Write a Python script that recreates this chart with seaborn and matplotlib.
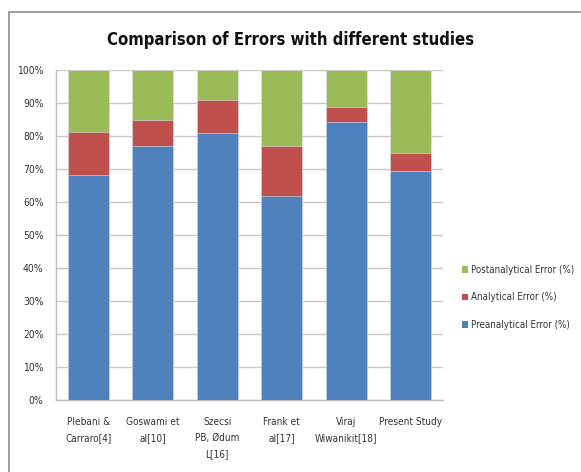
import seaborn as sns
import matplotlib.pyplot as plt
import pandas as pd
from matplotlib.patches import Rectangle, Patch

# data (percent of all errors)
studies = ["Plebani &\nCarraro[4]", "Goswami et\nal[10]", "Szecsi\nPB, Ødum\nL[16]",
           "Frank et\nal[17]", "Viraj\nWiwanikit[18]", "Present Study"]
preanalytical = [68.2, 77.1, 81.0, 61.9, 84.3, 69.5]
analytical = [13.1, 7.9, 9.9, 15.1, 4.6, 5.4]
postanalytical = [18.7, 15.0, 9.1, 23.0, 11.1, 25.1]

series = ["Postanalytical Error (%)", "Analytical Error (%)", "Preanalytical Error (%)"]
colors = ["#9BBB59", "#C0504D", "#4F81BD"]

df = pd.DataFrame({"study": studies, "pre": preanalytical,
                   "ana": analytical, "post": postanalytical})
df["cum_pre"] = df["pre"]
df["cum_ana"] = df["pre"] + df["ana"]
df["cum_post"] = df["cum_ana"] + df["post"]

sns.set_style("white")
plt.rcParams["font.family"] = ["DejaVu Sans"]
plt.rcParams["font.stretch"] = "condensed"

fig = plt.figure(figsize=(5.81, 4.72), dpi=100)
ax = fig.add_axes([0.0964, 0.1525, 0.666, 0.699])

# stacked bars drawn from the tallest cumulative layer down
for col, c in zip(["cum_post", "cum_ana", "cum_pre"], colors):
    sns.barplot(data=df, x="study", y=col, color=c, width=0.64, ax=ax,
                saturation=1, edgecolor="#dce6f2", linewidth=0.4, zorder=3)

ax.set_ylim(0, 100)
ax.set_yticks(range(0, 101, 10))
ax.set_yticklabels([f"{v}%" for v in range(0, 101, 10)])
ax.set_xlabel("")
ax.set_ylabel("")
ax.yaxis.grid(True, color="#c8c8c8", linewidth=1.0, zorder=0)
ax.set_axisbelow(True)
for s in ["top", "right"]:
    ax.spines[s].set_visible(False)
for s in ["left", "bottom"]:
    ax.spines[s].set_color("#bfbfbf")
    ax.spines[s].set_linewidth(1.0)
ax.tick_params(axis="y", length=3, color="#bfbfbf", labelsize=7.5, labelcolor="#333333", pad=6)
ax.tick_params(axis="x", length=0, labelsize=7.2, labelcolor="#333333", pad=12)
for lbl in ax.get_xticklabels():
    lbl.set_linespacing(1.75)

fig.text(0.5, 0.915, "Comparison of Errors with different studies", ha="center",
         va="center", fontsize=12, fontweight="bold", color="#111111")

handles = [Patch(facecolor=c, edgecolor="none") for c in colors]
fig.legend(handles, series, loc="center left", bbox_to_anchor=(0.78, 0.37),
           frameon=False, fontsize=7.0, handlelength=0.6, handleheight=0.6,
           handletextpad=0.3, labelspacing=1.8, labelcolor="#333333")

# outer chart frame
fig.patches.append(Rectangle((9 / 581, -0.1), 1.2, 1 - 12 / 472 + 0.1,
                             transform=fig.transFigure, fill=False,
                             edgecolor="#8c8c8c", linewidth=1.2))

fig.savefig("out.png", dpi=100)
